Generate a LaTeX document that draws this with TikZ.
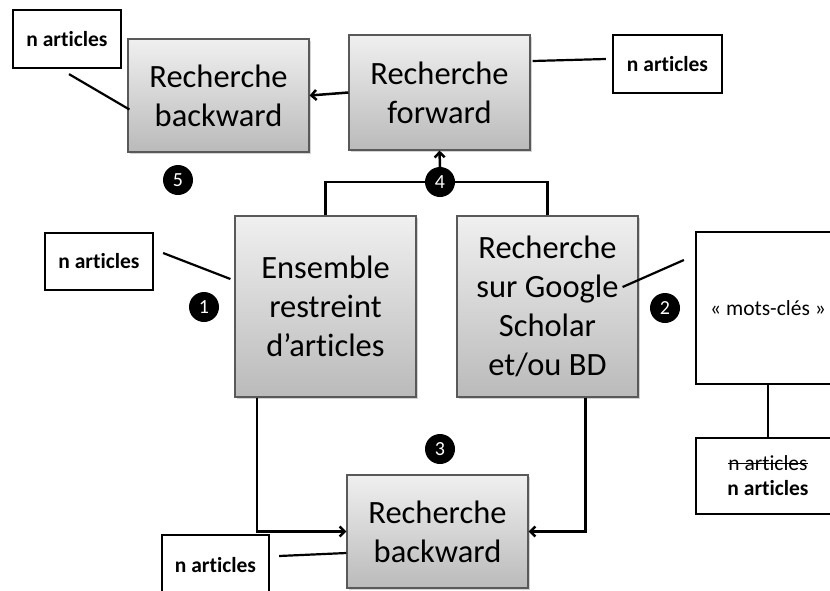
\documentclass[tikz,border=0pt]{standalone}
\usepackage{fontspec}
\setmainfont{Carlito}[Ligatures=NoCommon]
\usetikzlibrary{arrows.meta,calc,shadows}
\newcommand{\crossout}[1]{\setbox0\hbox{#1}\rlap{\copy0}\rule[0.3em]{\wd0}{0.06em}}

\begin{document}
\begin{tikzpicture}[x=1pt, y=-1pt,
    process/.style={rectangle, draw=black!65, line width=1.2pt,
        top color=black!6, bottom color=black!27,
        drop shadow={shadow xshift=2pt, shadow yshift=-2pt, opacity=0.35},
        minimum width=181pt, align=center, inner sep=0pt,
        font=\fontsize{32.5}{39}\selectfont},
    note/.style={rectangle, draw=black, line width=2.2pt, fill=white,
        align=center, inner sep=0pt, font=\fontsize{21.5}{25}\selectfont},
    badge/.style={circle, fill=black, text=white, minimum size=30pt,
        inner sep=0pt, font=\fontsize{20}{20}\selectfont},
    arr/.style={line width=2.5pt, -{Straight Barb[length=5pt, width=10pt]}},
    link/.style={line width=2.5pt},
    lead/.style={line width=2.2pt}]

    \useasboundingbox (0,0) rectangle (830,590);
    \clip (0,0) rectangle (830,590);

    % main steps
    \node[process, minimum height=113pt] (bwtop) at (218.5,95.5) {Recherche\\backward};
    \node[process, minimum height=115pt] (fwd) at (439.5,92.5) {Recherche\\forward};
    \node[process, minimum height=181pt] (ens) at (325.5,306.5) {Ensemble\\restreint\\d'articles};
    \node[process, minimum height=181pt] (gs) at (547.5,306.5) {Recherche\\sur Google\\Scholar\\et/ou BD};
    \node[process, minimum height=113pt] (bwbot) at (437.5,531.5) {Recherche\\backward};

    % notes
    \node[note, minimum width=108pt, minimum height=58pt] (n1) at (67,39) {\textbf{n articles}};
    \node[note, minimum width=109pt, minimum height=58pt] (n2) at (667.5,64) {\textbf{n articles}};
    \node[note, minimum width=108pt, minimum height=57pt] (n3) at (99,261.5) {\textbf{n articles}};
    \node[note, minimum width=144pt, minimum height=152pt] (mots) at (768,308) {«~mots-clés~»};
    \node[note, minimum width=144pt, minimum height=76pt] (n5) at (768,476) {\crossout{n articles}\\\textbf{n articles}};
    \node[note, minimum width=107pt, minimum height=60pt] (n4) at (215.5,565) {\textbf{n articles}};

    % flow
    \coordinate (hub) at (440,182);
    \draw[arr] (fwd.west) -- (bwtop.east);
    \draw[link] (ens.north) |- (hub) -| (gs.north);
    \draw[arr] ([xshift=-68.5pt]ens.south) |- (bwbot.west);
    \draw[arr] ([xshift=-53pt]gs.south east) |- (bwbot.east);
    \draw[link] (mots.south) -- (n5.north);

    % leaders
    \draw[lead] ($(n1.south)+(2,5)$) -- ($(bwtop.west)+(2,14)$);
    \draw[lead] ($(fwd.east)+(2,-31.5)$) -- ($(n2.west)+(-6,-5)$);
    \draw[lead] ($(n3.east)+(9,-8.5)$) -- ($(ens.west)+(-4,-27.5)$);
    \draw[lead] ($(gs.east)+(-16,-19.5)$) -- ($(mots.west)+(-11,-48)$);
    \draw[lead] ($(n4.east)+(9,-9)$) -- ($(bwbot.west)+(0,21.5)$);

    % step numbers
    \node[badge] (c1) at (204,307) {1};
    \node[badge] (c2) at (665,308) {2};
    \node[badge] (c3) at (440,449) {3};
    \node[badge] (c4) at (hub) {4};
    \node[badge] (c5) at (178,180) {5};
    \draw[arr] (c4.north) -- (fwd.south);
\end{tikzpicture}
\end{document}
